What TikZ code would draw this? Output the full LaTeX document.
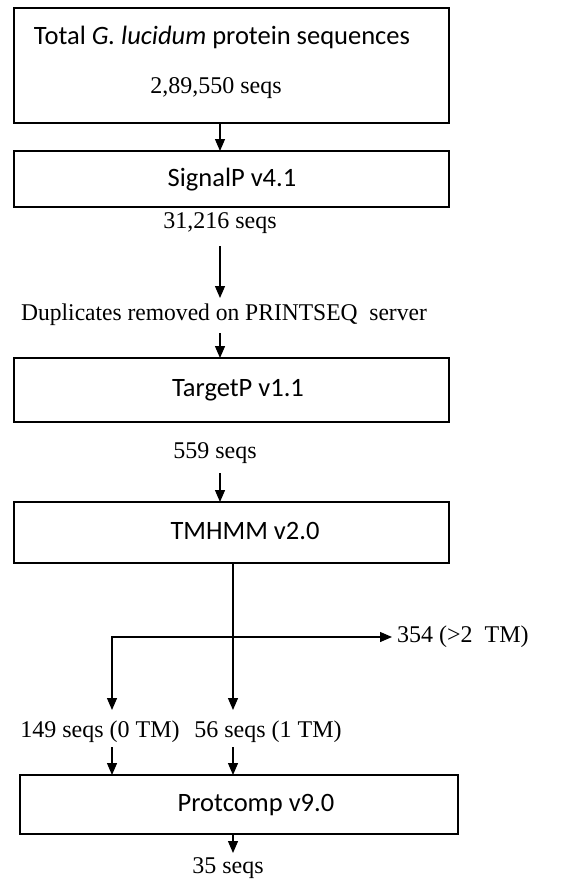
\documentclass[tikz,border=0pt]{standalone}
\usepackage{fontspec}
\setmainfont{Liberation Serif}
\newfontfamily\calfont{Carlito}
\usetikzlibrary{arrows.meta}
\tikzset{
  box/.style={draw, line width=1.3pt, inner sep=0pt},
  sans/.style={font=\calfont\fontsize{26.5}{30}\selectfont, inner sep=0pt},
  serif/.style={font=\fontsize{24}{28}\selectfont, inner sep=0pt},
  arr/.style={line width=1.3pt, -{Triangle[width=10pt,length=12pt]}},
}
\begin{document}
\begin{tikzpicture}[x=1pt,y=-1pt]
\useasboundingbox (0,0) rectangle (581,881);
% boxes
\node[box, minimum width=435pt, minimum height=115pt] (b1) at (231.5,65.5) {};
\node[box, minimum width=435pt, minimum height=56pt] (b2) at (231.5,179) {};
\node[box, minimum width=435pt, minimum height=64pt] (b3) at (231.5,390) {};
\node[box, minimum width=435pt, minimum height=61pt] (b4) at (231.5,532.5) {};
\node[box, minimum width=438pt, minimum height=59pt] (b5) at (239,804.5) {};
% texts
\node[sans] (t1) at (222,37) {Total \textit{G. lucidum} protein sequences};
\node[serif] (n1) at (216,88) {2,89,550 seqs};
\node[sans] (t2) at (232,180) {SignalP v4.1};
\node[serif] (n2) at (220,223) {31,216 seqs};
\node[serif] (dup) at (224,315) {\scalebox{0.98}[1]{Duplicates removed on PRINTSEQ\ \ server}};
\node[sans] (t3) at (238,390) {TargetP v1.1};
\node[serif] (n3) at (215,453) {559 seqs};
\node[sans] (t4) at (245,531) {TMHMM v2.0};
\node[serif, anchor=west] (n354) at (397,637) {354 (>2\ \ TM)};
\node[serif] (n149) at (100,732) {149 seqs (0 TM)};
\node[serif] (n56) at (268,732) {56 seqs (1 TM)};
\node[sans] (t5) at (256,805) {Protcomp v9.0};
\node[serif] (n5) at (228,868) {35 seqs};
% coordinates
\coordinate (c1) at (220,123);
\coordinate (c2) at (220,151);
\coordinate (c3) at (220,246);
\coordinate (c4) at (220,298);
\coordinate (c5) at (220,333);
\coordinate (c6) at (220,358);
\coordinate (c7) at (220,473);
\coordinate (c8) at (220,502);
\coordinate (c9) at (233,563);
\coordinate (c10) at (233,710);
\coordinate (c11) at (112,710);
\coordinate (c12) at (392,637);
\coordinate (c13) at (112,747);
\coordinate (c14) at (112,775);
\coordinate (c15) at (233,747);
\coordinate (c16) at (233,775);
\coordinate (c17) at (233,834);
\coordinate (c18) at (233,853);
% arrows
\draw[arr] (c1) -- (c2);
\draw[arr] (c3) -- (c4);
\draw[arr] (c5) -- (c6);
\draw[arr] (c7) -- (c8);
\draw[arr] (c9) -- (c10);
\draw[line width=1.3pt, {Triangle[width=10pt,length=12pt]}-{Triangle[width=10pt,length=12pt]}] (c11) |- (c12);
\draw[arr] (c13) -- (c14);
\draw[arr] (c15) -- (c16);
\draw[arr] (c17) -- (c18);
\end{tikzpicture}
\end{document}
